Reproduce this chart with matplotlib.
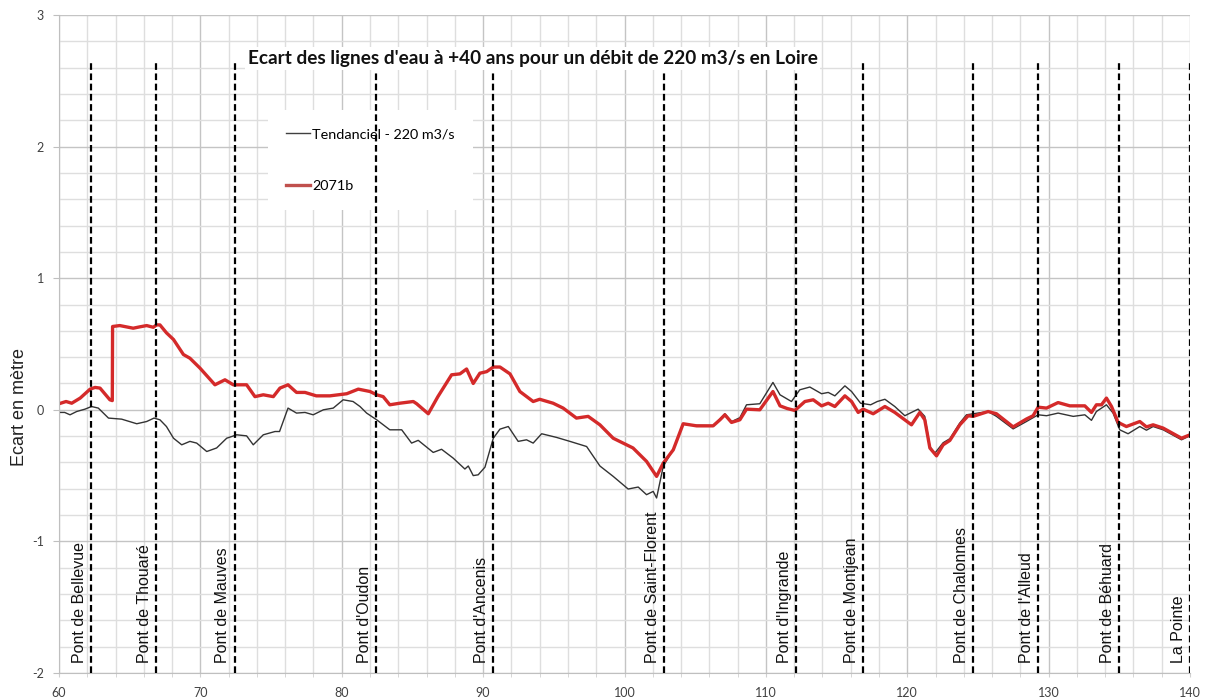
import numpy as np
import matplotlib
matplotlib.use("Agg")
import matplotlib.pyplot as plt
from matplotlib.ticker import MultipleLocator

plt.rcParams['axes.unicode_minus'] = False

# km along the Loire / water-level difference (m)
TEND_X = [60.0, 60.4, 60.78, 61.25, 61.84, 62.3, 62.78, 63.5, 64.43, 65.5, 66.2, 66.72,
          67.14, 67.6, 68.1, 68.68, 69.26, 69.74, 70.45, 71.15, 71.86, 72.57, 73.27, 73.74,
          74.45, 75.28, 75.6, 76.2, 76.8, 77.4, 77.98, 78.7, 79.4, 80.1, 80.8, 81.29, 81.76,
          82.47, 83.4, 84.24, 84.94, 85.41, 86.47, 87.06, 87.88, 88.71, 88.95, 89.3, 89.65,
          90.13, 90.72, 91.19, 91.78, 92.48, 93.07, 93.54, 94.14, 95.2, 96.14, 97.32, 98.26,
          99.2, 100.26, 100.97, 101.56, 102.03, 102.27, 102.74, 103.45, 104.15, 105.1, 106.27,
          106.75, 107.1, 107.57, 108.16, 108.63, 109.57, 110.5, 111.0, 111.81, 112.4, 113.11,
          113.94, 114.41, 114.88, 115.59, 116.06, 116.7, 117.41, 117.88, 118.42, 119.12,
          119.83, 120.77, 121.24, 121.6, 121.95, 122.54, 123.01, 123.72, 124.19, 125.72,
          126.31, 127.49, 128.43, 129.26, 129.85, 130.67, 131.74, 132.56, 133.03, 133.38,
          134.09, 134.56, 135.03, 135.62, 136.45, 136.92, 137.39, 138.1, 139.4, 140.0]
TEND_Y = [-0.02, -0.02, -0.038, -0.013, 0.005, 0.025, 0.013, -0.063, -0.071, -0.106, -0.089,
          -0.063, -0.076, -0.127, -0.216, -0.266, -0.24, -0.253, -0.317, -0.29, -0.216, -0.19,
          -0.198, -0.266, -0.19, -0.165, -0.165, 0.013, -0.025, -0.02, -0.038, 0.0, 0.013,
          0.076, 0.063, 0.025, -0.025, -0.076, -0.152, -0.152, -0.253, -0.232, -0.324, -0.30,
          -0.367, -0.45, -0.427, -0.50, -0.494, -0.436, -0.216, -0.147, -0.127, -0.24, -0.228,
          -0.253, -0.182, -0.21, -0.24, -0.279, -0.427, -0.506, -0.602, -0.587, -0.645, -0.62,
          -0.67, -0.43, -0.30, -0.11, -0.118, -0.12, -0.07, -0.03, -0.09, -0.06, 0.038, 0.046,
          0.208, 0.114, 0.063, 0.152, 0.173, 0.122, 0.132, 0.106, 0.182, 0.139, 0.05, 0.038,
          0.063, 0.08, 0.025, -0.045, 0.005, -0.05, -0.279, -0.33, -0.25, -0.22, -0.10,
          -0.038, -0.013, -0.05, -0.145, -0.089, -0.038, -0.045, -0.025, -0.05, -0.038, -0.08,
          -0.013, 0.038, -0.025, -0.152, -0.182, -0.127, -0.155, -0.127, -0.152, -0.228, -0.197]

B2071_X = [60.0, 60.5, 60.9, 61.5, 62.2, 62.55, 62.9, 63.6, 63.77, 63.79, 64.3, 65.25, 65.7,
           66.2, 66.67, 66.9, 67.14, 67.6, 68.1, 68.8, 69.26, 69.97, 71.03, 71.74, 72.33,
           73.27, 73.86, 74.45, 75.16, 75.63, 76.2, 76.8, 77.4, 78.2, 79.16, 80.35, 81.17,
           82.0, 82.47, 82.93, 83.4, 84.1, 85.06, 85.3, 86.12, 86.8, 87.77, 88.36, 88.83,
           89.3, 89.77, 90.25, 90.72, 91.19, 91.9, 92.6, 93.54, 94.0, 94.95, 95.66, 96.6,
           97.43, 98.26, 99.2, 100.6, 101.56, 102.27, 102.74, 103.45, 104.15, 105.1, 106.27,
           106.75, 107.1, 107.57, 108.16, 108.63, 109.57, 110.5, 111.0, 111.5, 112.05, 112.76,
           113.35, 113.94, 114.41, 114.88, 115.59, 116.06, 116.53, 116.88, 117.59, 118.42,
           119.12, 120.3, 120.89, 121.24, 121.6, 122.07, 122.54, 123.01, 123.72, 124.31,
           124.66, 125.72, 126.31, 127.49, 128.43, 128.9, 129.26, 129.85, 130.67, 131.5,
           132.56, 133.03, 133.38, 133.74, 134.09, 134.45, 134.92, 135.5, 136.45, 136.92,
           137.39, 138.1, 139.4, 140.0]
B2071_Y = [0.046, 0.063, 0.05, 0.089, 0.157, 0.17, 0.165, 0.076, 0.07, 0.633, 0.64, 0.62,
           0.63, 0.64, 0.627, 0.645, 0.645, 0.585, 0.534, 0.42, 0.392, 0.317, 0.19, 0.228,
           0.19, 0.19, 0.10, 0.114, 0.10, 0.165, 0.19, 0.132, 0.132, 0.106, 0.106, 0.122,
           0.157, 0.139, 0.114, 0.10, 0.038, 0.05, 0.063, 0.046, -0.03, 0.10, 0.266, 0.273,
           0.31, 0.20, 0.278, 0.29, 0.325, 0.325, 0.273, 0.139, 0.063, 0.08, 0.05, 0.013,
           -0.063, -0.05, -0.114, -0.216, -0.29, -0.392, -0.506, -0.405, -0.304, -0.106,
           -0.122, -0.122, -0.076, -0.038, -0.096, -0.076, 0.005, 0.0, 0.139, 0.03, 0.01,
           -0.005, 0.063, 0.076, 0.03, 0.05, 0.025, 0.106, 0.063, -0.02, 0.005, -0.03, 0.025,
           -0.02, -0.114, -0.02, -0.076, -0.29, -0.35, -0.266, -0.233, -0.114, -0.045, -0.05,
           -0.013, -0.03, -0.13, -0.07, -0.045, 0.02, 0.013, 0.055, 0.03, 0.03, -0.02, 0.038,
           0.038, 0.089, 0.025, -0.096, -0.127, -0.089, -0.13, -0.114, -0.139, -0.216, -0.19]

BRIDGES = ["Pont de Bellevue", "Pont de Thouaré", "Pont de Mauves", "Pont d'Oudon",
           "Pont d'Ancenis", "Pont de Saint-Florent", "Pont d'Ingrande", "Pont de Montjean",
           "Pont de Chalonnes", "Pont de l'Alleud", "Pont de Béhuard", "La Pointe"]
BRIDGE_KM = [62.24, 66.84, 72.42, 82.42, 90.72, 102.79, 112.12, 116.88, 124.66, 129.26,
             134.98, 140.0]

TITLE = "Ecart des lignes d'eau à +40 ans pour un débit de 220 m3/s en Loire"

fig = plt.figure(figsize=(12.08, 6.98), dpi=100)
ax = fig.add_axes([59 / 1208, 1 - 673 / 698, 1131 / 1208, 658 / 698])

ax.set_xlim(60, 140)
ax.set_ylim(-2, 3)
ax.xaxis.set_major_locator(MultipleLocator(10))
ax.xaxis.set_minor_locator(MultipleLocator(2))
ax.yaxis.set_major_locator(MultipleLocator(1))
ax.yaxis.set_minor_locator(MultipleLocator(0.2))
ax.set_axisbelow(True)
ax.grid(which='major', color='#c4c4c4', lw=1.0)
ax.grid(which='minor', color='#dedede', lw=1.0)
for s in ['top', 'right']:
    ax.spines[s].set_visible(False)
for s in ['left', 'bottom']:
    ax.spines[s].set_color('#bfbfbf')
ax.tick_params(axis='x', which='both', length=3, color='#d0d0d0', pad=7,
               labelsize=9, labelcolor='#404040')
ax.tick_params(axis='y', which='major', length=4, color='#bfbfbf', pad=7,
               labelsize=9, labelcolor='#404040')
ax.tick_params(axis='y', which='minor', length=0)
for lab in ax.get_xticklabels() + ax.get_yticklabels():
    lab.set_family('Lato')

l1, = ax.plot(TEND_X, TEND_Y, color='#333333', lw=1.0, zorder=2,
              label='Tendanciel - 220 m3/s')
l2, = ax.plot(B2071_X, B2071_Y, color='#d42a2a', lw=2.4, zorder=2.5, label='2071b')

for km, name in zip(BRIDGE_KM, BRIDGES):
    ax.vlines(km, -2, 2.64, colors='black', lw=1.6, linestyles=(0, (3, 1.6)), zorder=3)
    ax.annotate(name, (km, -1.925), xytext=(-3, 0), textcoords='offset points',
                rotation=90, ha='right', va='bottom', fontsize=11.5,
                family='Liberation Sans', color='#111111', zorder=4)

ax.text(93.5, 2.67, TITLE, ha='center', va='center', fontsize=13.7, fontweight='bold',
        family='Lato', color='#111111', zorder=5,
        bbox=dict(facecolor='white', edgecolor='none', pad=2))

leg = ax.legend(handles=[l1, l2], loc='upper left',
                bbox_to_anchor=(268 / 1208, 1 - 110 / 698), bbox_transform=fig.transFigure,
                borderaxespad=0, frameon=True, fancybox=False, edgecolor='none',
                facecolor='white', framealpha=1, prop={'family': 'Lato', 'size': 10.4},
                handlelength=1.65, handletextpad=0.15, labelspacing=2.75, borderpad=1.25)
leg.set_zorder(1)
leg.get_lines()[0].set_color('#404040')
leg.get_lines()[1].set_color('#c0504d')

fig.text(20 / 1208, 1 - 407 / 698, 'Ecart en mètre', rotation=90, ha='center',
         va='center', fontsize=13, family='Liberation Sans', color='#222222')

fig.savefig('out.png', dpi=100)
